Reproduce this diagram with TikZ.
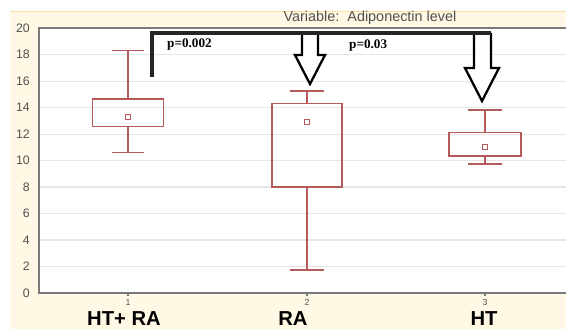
\documentclass[tikz,border=0pt]{standalone}
\usepackage{fontspec}
\setmainfont{Liberation Serif}
\setsansfont{Liberation Sans}
\usepackage{xcolor}
\usetikzlibrary{positioning,calc}
\definecolor{cream}{HTML}{FFF8E4}
\definecolor{creamline}{HTML}{F9E29A}
\definecolor{boxred}{HTML}{B45A5A}
\definecolor{gridgray}{HTML}{E6E6E6}
\definecolor{axisgray}{HTML}{7A7A7A}
\definecolor{labgray}{HTML}{505050}
\tikzset{
  whisk/.style={boxred, line width=0.8pt},
  meanmark/.style={draw=boxred, line width=0.6pt, minimum size=3pt, inner sep=0pt},
  hollowarrow/.style={draw=black, fill=white, line width=1.3pt, line join=miter},
  ticklab/.style={font=\sffamily\fontsize{7}{8}\selectfont, text=labgray},
  catlab/.style={font=\sffamily\bfseries\fontsize{11.5}{12}\selectfont},
  plab/.style={font=\bfseries\fontsize{7.5}{8}\selectfont}
}
\begin{document}
\begin{tikzpicture}[x=0.02cm, y=-0.02cm]
			\useasboundingbox (0,0) rectangle (566,331);
			\fill[white] (0,0) rectangle (566,331);
			\fill[cream] (10,11) rectangle (566,329);
			\draw[creamline, line width=1pt] (10,11.5) -- (566,11.5);
			\fill[white] (39,29) rectangle (566,293);
			\node [font=\sffamily\fontsize{8.2}{9}\selectfont, text=labgray] (title) at (370,18) {Variable:\ \ Adiponectin level};
			\begin{scope}[shift={(0,293)}, y=0.265cm]
				\foreach \v in {2,4,...,18}
					\draw[gridgray, line width=0.6pt] (40,\v) -- (566,\v);
				\foreach \v in {0,2,...,20}
					\node [ticklab, left] at (36,\v) {\v};
				\draw[axisgray, line width=1pt] (566,20) -- (39,20) -- (39,0) -- (566,0);
				\foreach \cx/\n in {128/1,307/2,485/3} {
					\draw[axisgray, line width=0.8pt] (\cx,0) -- (\cx,-0.2);
					\node [font=\sffamily\fontsize{5}{6}\selectfont, text=labgray] at (\cx,-0.7) {\n};
				}
				\foreach \cx/\w/\cw/\lo/\qa/\qb/\hi/\m in {128/71/32/10.6/12.55/14.65/18.3/13.3,
						307/70/34/1.75/8.0/14.3/15.25/12.9,
						485/72/34/9.75/10.35/12.1/13.8/11.0} {
					\draw[whisk] (\cx-\w/2,\qa) rectangle (\cx+\w/2,\qb);
					\draw[whisk] (\cx,\qb) -- (\cx,\hi) (\cx-\cw/2,\hi) -- (\cx+\cw/2,\hi);
					\draw[whisk] (\cx,\qa) -- (\cx,\lo) (\cx-\cw/2,\lo) -- (\cx+\cw/2,\lo);
					\node [meanmark] at (\cx,\m) {};
				}
			\end{scope}
			\draw[hollowarrow] (302,33) -- (302,55) -- (295,55) -- (310,84) -- (325,55) -- (318,55) -- (318,33);
			\draw[hollowarrow] (474,33) -- (474,68) -- (465,68) -- (482,101) -- (499,68) -- (491,68) -- (491,33);
			\draw[black!85, line width=1.8pt] (152,77) -- (152,33) -- (491,33);
			\node [plab, right] at (161,45) {p=0.002};
			\node [plab, right] at (343,46) {p=0.03};
			\node [catlab] (htra) at (124,319) {HT+ RA};
			\node [catlab] (ra) at (293,319) {RA};
			\node [catlab] (ht) at (484,319) {HT};
		\end{tikzpicture}
\end{document}
